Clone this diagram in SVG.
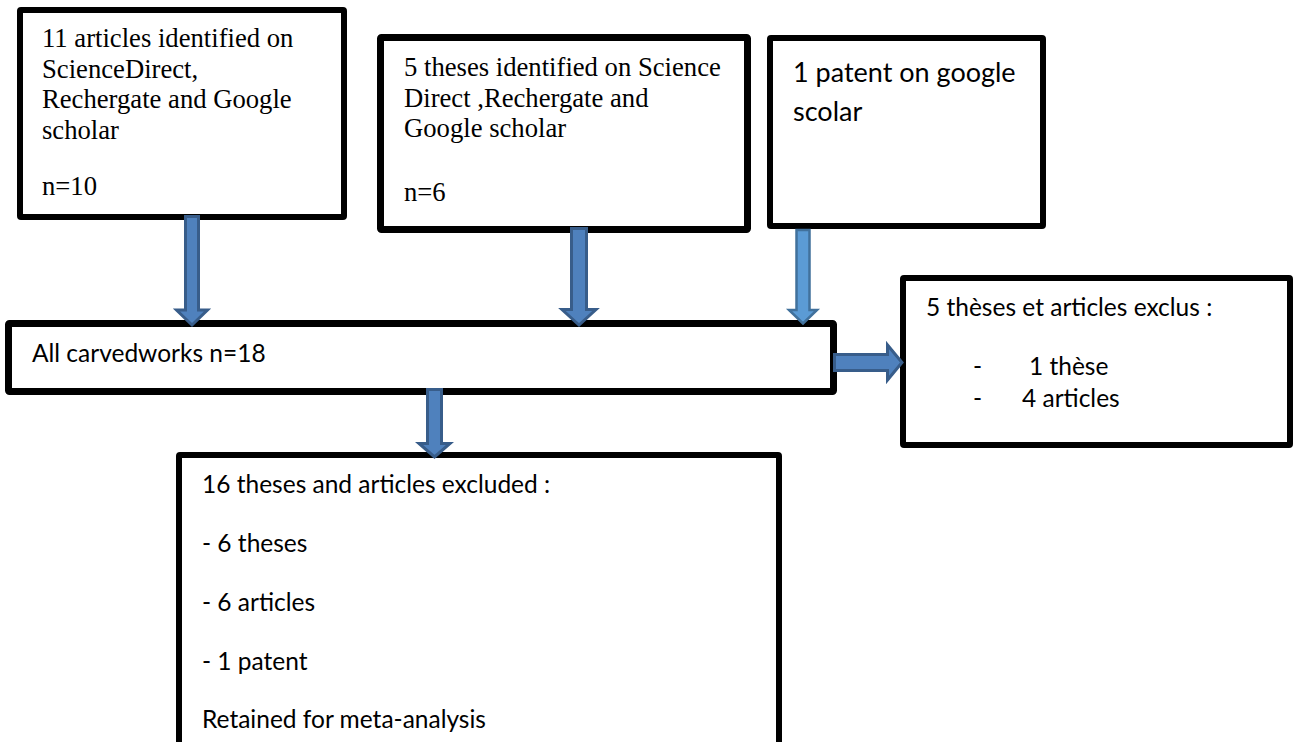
<svg xmlns="http://www.w3.org/2000/svg" width="1295" height="742" viewBox="0 0 1295 742">
<style>
.box{fill:#fff;stroke:#000;stroke-linejoin:round}
.serif{font-family:"Liberation Serif","Times New Roman",serif;font-size:26.67px;fill:#000}
.sans{font-family:Lato,"Noto Sans",sans-serif;font-size:24.5px;fill:#000}
.big{font-size:27px}
.arr{fill:#4F81BD;stroke:#385D8A;stroke-width:3;stroke-linejoin:miter}
.arr2{fill:#5B9BD5;stroke:#41719C;stroke-width:2.5;stroke-linejoin:miter}
</style>
<rect width="1295" height="742" fill="#fff"/>
<g id="nodes">
<g id="n-articles">
<rect class="box" x="20" y="10" width="324" height="207" stroke-width="6" rx="1"/>
<text class="serif" x="42" y="47">11 articles identified on</text>
<text class="serif" x="42" y="77.7">ScienceDirect,</text>
<text class="serif" x="42" y="108.3">Rechergate and Google</text>
<text class="serif" x="42" y="139">scholar</text>
<text class="serif" x="42" y="195">n=10</text>
</g>
<g id="n-theses">
<rect class="box" x="380.5" y="37.5" width="367" height="192" stroke-width="7" rx="1"/>
<text class="serif" x="404" y="76">5 theses identified on Science</text>
<text class="serif" x="404" y="106.5">Direct ,Rechergate and</text>
<text class="serif" x="404" y="137">Google scholar</text>
<text class="serif" x="404" y="201">n=6</text>
</g>
<g id="n-patent">
<rect class="box" x="770" y="38" width="273" height="188" stroke-width="6" rx="1"/>
<text class="sans big" x="793" y="82">1 patent on google</text>
<text class="sans big" x="793" y="121">scolar</text>
</g>
<g id="n-all">
<rect class="box" x="8.5" y="323.5" width="825" height="68" stroke-width="7" rx="1"/>
<text class="sans" x="32" y="362">All carvedworks n=18</text>
</g>
<g id="n-excl5">
<rect class="box" x="903" y="278" width="387" height="167" stroke-width="6" rx="1"/>
<text class="sans" x="926" y="316">5 thèses et articles exclus :</text>
<text class="sans" x="973" y="375">-</text>
<text class="sans" x="1029" y="375">1 thèse</text>
<text class="sans" x="973" y="407">-</text>
<text class="sans" x="1022" y="407">4 articles</text>
</g>
<g id="n-excl16">
<rect class="box" x="179" y="455" width="600" height="320" stroke-width="6" rx="1"/>
<text class="sans" x="202" y="493">16 theses and articles excluded :</text>
<text class="sans" x="202" y="552">- 6 theses</text>
<text class="sans" x="202" y="611">- 6 articles</text>
<text class="sans" x="202" y="670">- 1 patent</text>
<text class="sans" x="202" y="728">Retained for meta-analysis</text>
</g>
</g>
<g id="connectors">
<polygon class="arr" points="185.5,216.5 198.5,216.5 198.5,310 207.5,310 192,325 176.5,310 185.5,310"/>
<polygon class="arr" points="571.5,228.5 586.5,228.5 586.5,309.5 596,309.5 579,325 562,309.5 571.5,309.5"/>
<polygon class="arr2" points="796.5,230 809.5,230 809.5,310 817,310 803,323.5 789,310 796.5,310"/>
<polygon class="arr" points="427.5,389.5 441.5,389.5 441.5,443.5 450,443.5 434.5,457 419,443.5 427.5,443.5"/>
<polygon class="arr" points="834.5,354.5 887.5,354.5 887.5,345 902,362.5 887.5,380 887.5,370.5 834.5,370.5"/>
</g>
</svg>
